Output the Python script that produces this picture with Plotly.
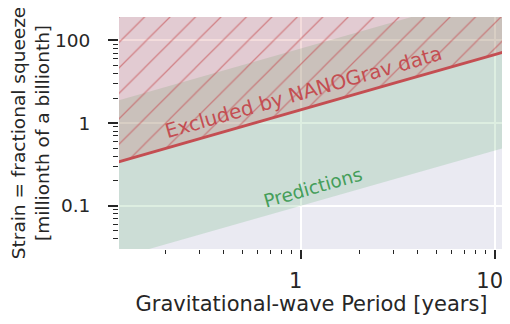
import math
import plotly.graph_objects as go

# ---- data ----
period_years = [0.1, 0.3, 1, 3, 10, 12]
nanograv_limit = [0.31, 0.65, 1.45, 3.02, 6.73, 7.6]      # red line (upper limit)
prediction_low = [0.0215, 0.0448, 0.1, 0.208, 0.464, 0.524]
prediction_high = [1.72, 3.58, 8.0, 16.6, 37.1, 41.9]
excluded_ceiling = 1000  # excluded region extends above the plot

x_tickvals = [1, 10]
x_ticktext = ["1", "10"]
y_tickvals = [0.1, 1, 10]
y_ticktext = ["0.1", "1", "100"]

excluded_label = "Excluded by NANOGrav data"
predictions_label = "Predictions"

RED = "#C44E52"
GREEN = "#55A868"
TXT = "#262626"
FONT = "DejaVu Sans"

x_minor = [d * m for m in (0.1, 1) for d in range(2, 10)]
y_minor = [d * m for m in (0.01, 0.1, 1) for d in range(2, 10)] + [20]

fig = go.Figure()

# predictions band
fig.add_trace(go.Scatter(
    x=period_years + period_years[::-1],
    y=prediction_low + prediction_high[::-1],
    fill="toself", fillcolor="rgba(85,168,104,0.2)",
    mode="lines", line=dict(width=0), hoverinfo="skip", showlegend=False))

# excluded (hatched) region
fig.add_trace(go.Scatter(
    x=period_years + period_years[::-1],
    y=nanograv_limit + [excluded_ceiling] * len(period_years),
    fill="toself", fillcolor="rgba(196,78,82,0.2)",
    fillpattern=dict(shape="/", size=18, solidity=0.07,
                     fgcolor=RED, fgopacity=0.6,
                     bgcolor="rgba(196,78,82,0.2)"),
    mode="lines", line=dict(width=0), hoverinfo="skip", showlegend=False))

# NANOGrav limit line
fig.add_trace(go.Scatter(
    x=period_years, y=nanograv_limit, mode="lines",
    line=dict(color=RED, width=3), hoverinfo="skip", showlegend=False))

fig.add_annotation(x=math.log10(1.034), y=math.log10(2.38), text=excluded_label,
                   textangle=-16, showarrow=False,
                   font=dict(family=FONT, size=20, color=RED))
fig.add_annotation(x=math.log10(1.16), y=math.log10(0.1686), text=predictions_label,
                   textangle=-16, showarrow=False,
                   font=dict(family=FONT, size=18.5, color="#459E5A"))

fig.update_xaxes(
    type="log", range=[-0.937, 1.048], automargin=False,
    tickvals=x_tickvals, ticktext=x_ticktext,
    ticks="outside", ticklen=9, tickwidth=1.5, tickcolor=TXT,
    minor=dict(tickvals=x_minor, ticks="outside", ticklen=4, tickwidth=1.2,
               tickcolor=TXT, showgrid=False),
    showgrid=True, gridcolor="white", gridwidth=1.5,
    zeroline=False, showline=False,
    ticklabelstandoff=4, ticklabelshift=-5, ticklabeloverflow="allow",
    tickfont=dict(family=FONT, size=21, color=TXT),
    title=dict(text="Gravitational-wave Period [years]",
               font=dict(family=FONT, size=21, color=TXT), standoff=5),
)
fig.update_yaxes(
    type="log", range=[-1.522, 1.283], automargin=False,
    tickvals=y_tickvals, ticktext=y_ticktext,
    ticks="outside", ticklen=10, tickwidth=1.5, tickcolor=TXT,
    minor=dict(tickvals=y_minor, ticks="outside", ticklen=5, tickwidth=1.2,
               tickcolor=TXT, showgrid=False),
    showgrid=True, gridcolor="white", gridwidth=1.5,
    zeroline=False, showline=False,
    ticklabelstandoff=14,
    tickfont=dict(family=FONT, size=18.5, color=TXT),
    title=dict(text="Strain = fractional squeeze<br>[millionth of a billionth]",
               font=dict(family=FONT, size=18.5, color=TXT), standoff=9),
)

# the page body adds an 8 px margin, so the figure is sized/offset to fill 510x324
fig.update_layout(
    width=502, height=308,
    margin=dict(l=111, r=6, t=9, b=67),
    plot_bgcolor="#EAEAF2", paper_bgcolor="white",
    showlegend=False,
)

fig.write_html("out.html")
